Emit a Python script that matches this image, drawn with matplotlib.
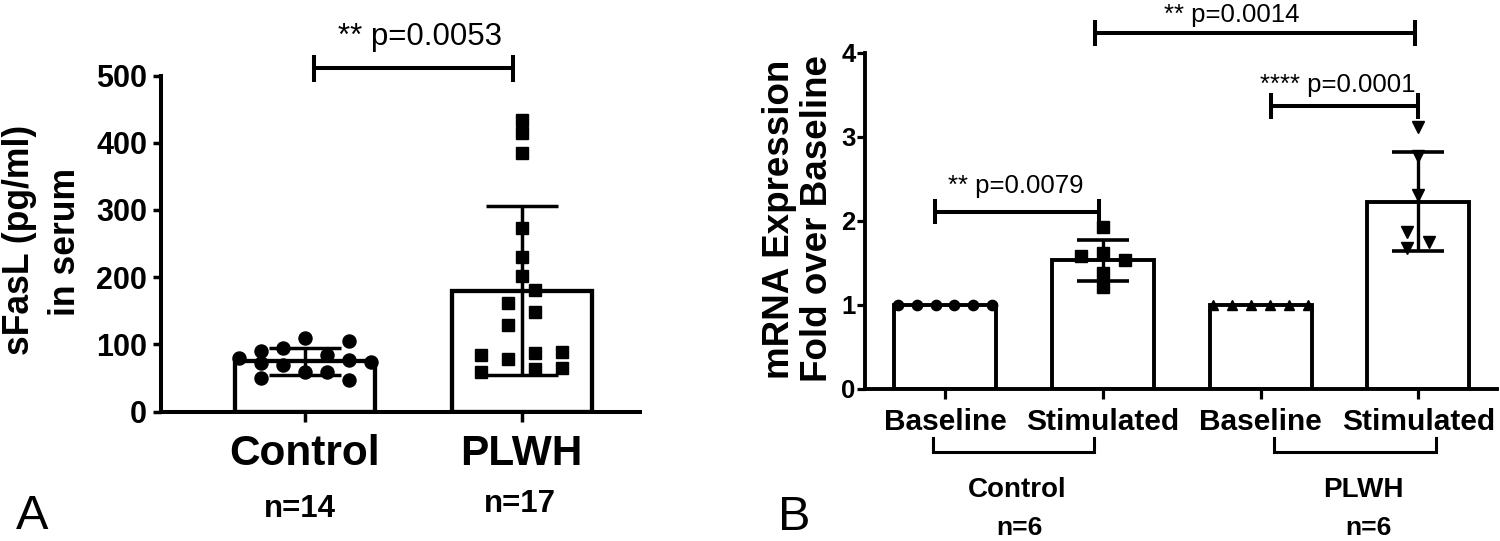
import matplotlib
matplotlib.use("Agg")
import matplotlib.pyplot as plt

W, H = 1500, 541

# ---------------- Data: panel A (sFasL in serum) ----------------
a_groups = ["Control", "PLWH"]
a_n_labels = ["n=14", "n=17"]
a_mean = [74.5, 180.0]
a_sd = [20.5, 126.0]
a_control = [80.1, 90.5, 71.7, 49.4, 94.0, 69.2, 109.8, 59.2, 84.1, 59.2,
             104.9, 76.6, 46.5, 73.2]
a_plwh = [433.8, 414.0, 385.1, 272.6, 230.4, 201.6, 180.8, 147.6, 87.5, 62.8,
          161.9, 128.7, 77.7, 84.1, 59.2, 88.5, 64.3]
a_yticks = [0, 100, 200, 300, 400, 500]
a_ptext = "** p=0.0053"

# ---------------- Data: panel B (mRNA fold over baseline) ----------------
b_conditions = ["Baseline", "Stimulated", "Baseline", "Stimulated"]
b_groups = ["Control", "PLWH"]
b_n_labels = ["n=6", "n=6"]
b_mean = [1.0, 1.53, 1.0, 2.23]
b_sd = [0.0, 0.245, 0.0, 0.59]
b_ctrl_base = [1.0, 1.0, 1.0, 1.0, 1.0, 1.0]
b_ctrl_stim = [1.583, 1.932, 1.615, 1.377, 1.218, 1.536]
b_plwh_base = [1.0, 1.0, 1.0, 1.0, 1.0, 1.0]
b_plwh_stim = [3.12, 2.77, 2.31, 1.87, 1.675, 1.75]
b_yticks = [0, 1, 2, 3, 4]
b_ptexts = ["** p=0.0079", "**** p=0.0001", "** p=0.0014"]

# ---------------- layout helpers (scatter columns) ----------------
a_ctrl_cols = [-3, -2, -2, -2, -1, -1, 0, 0, 1, 1, 2, 2, 2, 3]
a_plwh_cols = [0, 0, 0, 0, 0, 0, 1, 1, 1, 1, -1, -1, -1, -3, -3, 3, 3]
b_base_cols = [-5, -3, -1, 1, 3, 5]
b_cstim_cols = [-1, 0, 0, 0, 0, 1]
b_pstim_cols = [0, 0, 0, -1, -1, 1]

plt.rcParams["font.family"] = ["Liberation Sans", "DejaVu Sans"]

fig = plt.figure(figsize=(W / 100, H / 100), dpi=100)


def ftext(x, y, s, **kw):
    kw.setdefault("ha", "center")
    kw.setdefault("va", "baseline")
    fig.text(x / W, 1 - y / H, s, **kw)


def style_axes(ax, lw):
    for s in ("top", "right"):
        ax.spines[s].set_visible(False)
    for s in ("left", "bottom"):
        ax.spines[s].set_linewidth(lw)
        ax.spines[s].set_color("black")


def bracket(ax, x1, x2, y, d, lw=2.9):
    ax.plot([x1, x2], [y, y], color="black", lw=lw, clip_on=False,
            solid_capstyle="butt")
    for xe in (x1, x2):
        ax.plot([xe, xe], [y - d, y + d], color="black", lw=lw,
                clip_on=False, solid_capstyle="butt")


# ======================= Panel A =======================
ax1 = fig.add_axes([160.5 / W, (H - 411.5) / H, (640 - 160.5) / W, 336 / H])
ax1.set_xlim(-0.6668, 1.546)
ax1.set_ylim(0, 500)
style_axes(ax1, 2.9)
xa = [0, 1]
ax1.bar(xa, a_mean, width=0.646, color="white", edgecolor="black",
        linewidth=3.1, zorder=2)
ax1.errorbar(xa, a_mean, yerr=a_sd, fmt="none", ecolor="black",
             elinewidth=2.5, capsize=26, capthick=2.5, zorder=3)
ax1.plot([xa[0] + 0.1015 * c for c in a_ctrl_cols], a_control, "o",
         ms=9.4, color="black", zorder=4, clip_on=False)
ax1.plot([xa[1] + 0.062 * c for c in a_plwh_cols], a_plwh, "s",
         ms=9.0, color="black", zorder=4, clip_on=False)
ax1.set_yticks(a_yticks)
ax1.set_yticklabels([str(v) for v in a_yticks], fontsize=22, fontweight="bold")
ax1.set_xticks(xa)
ax1.set_xticklabels(a_groups, fontsize=30.5, fontweight="bold")
ax1.tick_params(axis="y", length=6, width=2.5, pad=3.6)
ax1.tick_params(axis="x", length=7, width=2.5, pad=9.5)

bracket(ax1, 0.043, 0.961, 510.7, 20.5)
ftext(420, 45, a_ptext, fontsize=22.5)

ftext(300, 516.7, a_n_labels[0], fontsize=22.5, fontweight="bold")
ftext(520, 511.7, a_n_labels[1], fontsize=22.5, fontweight="bold")
ftext(32, 529, "A", fontsize=35)

fig.text(29.5 / W, 1 - 239.5 / H, "sFasL (pg/ml)", rotation=90,
         rotation_mode="anchor", ha="center", va="baseline",
         fontsize=25.6, fontweight="bold")
fig.text(75 / W, 1 - 242 / H, "in serum", rotation=90,
         rotation_mode="anchor", ha="center", va="baseline",
         fontsize=25.6, fontweight="bold")

# ======================= Panel B =======================
ax2 = fig.add_axes([865.5 / W, (H - 389) / H, (1497 - 865.5) / W, 336 / H])
ax2.set_xlim(-0.504, 3.498)
ax2.set_ylim(0, 4)
style_axes(ax2, 2.8)
xb = [0, 1, 2, 3]
ax2.bar(xb, b_mean, width=0.646, color="white", edgecolor="black",
        linewidth=2.8, zorder=2)
ax2.errorbar([xb[1], xb[3]], [b_mean[1], b_mean[3]], yerr=[b_sd[1], b_sd[3]],
             fmt="none", ecolor="black", elinewidth=2.4, capsize=19,
             capthick=2.6, zorder=3)
ax2.plot([xb[0] + 0.06 * c for c in b_base_cols], b_ctrl_base, "o",
         ms=7.4, color="black", zorder=4, clip_on=False)
ax2.plot([xb[1] + 0.1375 * c for c in b_cstim_cols], b_ctrl_stim, "s",
         ms=8.2, color="black", zorder=4, clip_on=False)
ax2.plot([xb[2] + 0.06 * c for c in b_base_cols], b_plwh_base, "^",
         ms=7.6, color="black", zorder=4, clip_on=False)
ax2.plot([xb[3] + 0.07 * c for c in b_pstim_cols], b_plwh_stim, "v",
         ms=8.0, color="black", zorder=4, clip_on=False)
ax2.set_yticks(b_yticks)
ax2.set_yticklabels([str(v) for v in b_yticks], fontsize=18.5, fontweight="bold")
ax2.set_xticks(xb)
ax2.set_xticklabels(b_conditions, fontsize=21.5, fontweight="bold")
ax2.tick_params(axis="y", length=6, width=2.3, pad=1.2)
ax2.tick_params(axis="x", length=7, width=2.3, pad=7.0)

bracket(ax2, -0.063, 0.976, 2.11, 0.15)
bracket(ax2, 2.066, 2.998, 3.37, 0.15)
bracket(ax2, 0.953, 2.978, 4.234, 0.155)
ftext(1015.5, 193.3, b_ptexts[0], fontsize=18.5)
ftext(1338, 91.7, b_ptexts[1], fontsize=18.5)
ftext(1232, 21.7, b_ptexts[2], fontsize=18.5)

# group brackets under the x labels
for x1, x2 in ((-0.074, 0.946), (2.082, 3.11)):
    ax2.plot([x1, x1, x2, x2], [-0.583, -0.746, -0.746, -0.583], color="black",
             lw=2.2, clip_on=False, solid_joinstyle="miter")

ftext(1017, 496.7, b_groups[0], fontsize=20, fontweight="bold")
ftext(1363, 496.7, b_groups[1], fontsize=20, fontweight="bold")
ftext(1019, 535, b_n_labels[0], fontsize=19, fontweight="bold")
ftext(1368.5, 535, b_n_labels[1], fontsize=19, fontweight="bold")
ftext(794, 530, "B", fontsize=35)

fig.text(789 / W, 1 - 219 / H, "mRNA Expression", rotation=90,
         rotation_mode="anchor", ha="center", va="baseline",
         fontsize=26.5, fontweight="bold")
fig.text(827 / W, 1 - 219 / H, "Fold over Baseline", rotation=90,
         rotation_mode="anchor", ha="center", va="baseline",
         fontsize=26.5, fontweight="bold")

fig.savefig("out.png", dpi=100, facecolor="white")
